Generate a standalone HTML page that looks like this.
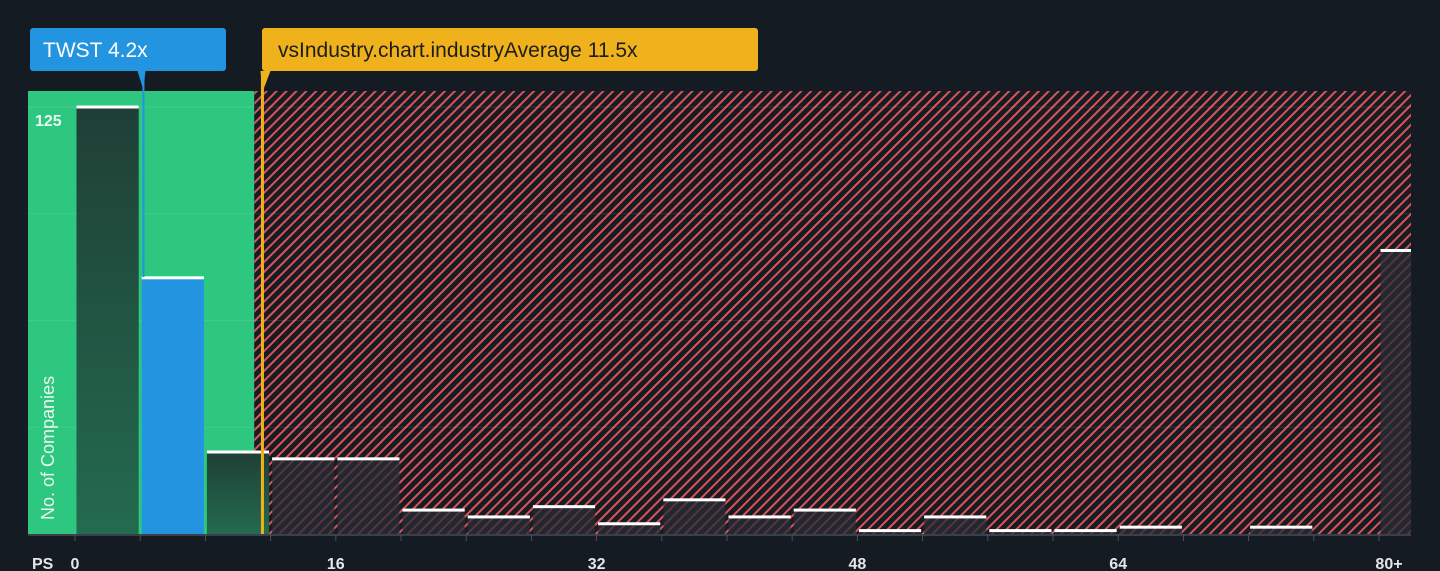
<!DOCTYPE html>
<html><head><meta charset="utf-8">
<style>
html,body{margin:0;padding:0;background:#151b23;width:1440px;height:571px;overflow:hidden}
svg{display:block;font-family:"Liberation Sans",sans-serif}
</style></head>
<body>
<svg id="chart" width="1440" height="571" viewBox="0 0 1440 571">
<defs>
<pattern id="hatch" patternUnits="userSpaceOnUse" width="7" height="7" patternTransform="rotate(45)">
<rect width="7" height="7" fill="#171b22"/>
<rect x="0" y="0" width="2" height="7" fill="#d9545a"/>
</pattern>
<linearGradient id="gbar" x1="0" y1="0" x2="0" y2="1"><stop offset="0" stop-color="#1f3f36"/><stop offset="1" stop-color="#236b4f"/></linearGradient>
</defs>
<g id="bg"></g><g id="bars"></g><g id="axis"></g><g id="ann"></g>
</svg>
<script>
const binStarts = [0,4,8,12,16,20,24,28,32,36,40,44,48,52,56,60,64,68,72,76,80];
const counts = [125,75,24,22,22,7,5,8,3,10,5,7,1,5,1,1,2,0,2,0,83];
const tickLabels = ["0","16","32","48","64","80+"];
const tickValues = [0,16,32,48,64,80];
const subjectValue = 4.2;
const industryAvg = 11.5;
const yMax = 125;

const NS="http://www.w3.org/2000/svg";
const x0=75, pxPerUnit=16.3, baseY=534, topY=107, plotL=28, plotR=1411, plotT=91;
const X=v=>x0+v*pxPerUnit;
const Y=c=>baseY-c*(baseY-topY)/yMax;
function mk(tag,attrs,parent){const e=document.createElementNS(NS,tag);for(const k in attrs)e.setAttribute(k,attrs[k]);parent.appendChild(e);return e;}
const bg=document.getElementById('bg'),bars=document.getElementById('bars'),axis=document.getElementById('axis'),ann=document.getElementById('ann');

let g=mk('rect',{x:plotL,y:plotT,width:X(industryAvg-0.5)-plotL,height:baseY-plotT,fill:'#2dc77f'},bg);


let h=mk('rect',{x:X(industryAvg-0.5),y:plotT,width:plotR-X(industryAvg-0.5),height:baseY-plotT,fill:'url(#hatch)'},bg);


for(let i=1;i<=4;i++){const gl=mk('line',{x1:plotL,x2:plotR,y1:Y(yMax*i/4),y2:Y(yMax*i/4),stroke:'rgba(255,255,255,0.1)','stroke-width':1},bg);

}

binStarts.forEach((b,i)=>{
  const c=counts[i]; if(c<=0) return;
  const xl=X(b)+1.5, w=4*pxPerUnit-3;
  const wEff=Math.min(w,plotR-xl);
  const inGreen=b+4<=industryAvg;
  const isSub=subjectValue>=b&&subjectValue<b+4;
  const fill=isSub?'#2394df':(b<industryAvg?'url(#gbar)':'rgba(40,44,54,0.75)');
  const r=mk('rect',{x:xl,y:Y(c),width:wEff,height:baseY-Y(c),fill:fill},bars);
  
  
  const cap=mk('rect',{x:xl,y:Y(c)-1.5,width:wEff,height:3,fill:'#fff'},bars);
  
  
});

const al=mk('line',{x1:plotL,x2:plotR,y1:baseY+1,y2:baseY+1,stroke:'#3a404a','stroke-width':2},axis);


binStarts.forEach(b=>{const t=mk('line',{x1:X(b),x2:X(b),y1:baseY,y2:baseY+7,stroke:'#4a505a','stroke-width':1},axis);

});
tickValues.forEach((v,i)=>{const t=mk('text',{x:X(v)+(i==tickLabels.length-1?10:0),y:569,fill:'#e6e6e6','font-size':16,'font-weight':'bold','text-anchor':'middle'},axis);t.textContent=tickLabels[i];

});
let ps=mk('text',{x:32,y:569,fill:'#e6e6e6','font-size':16,'font-weight':'bold'},axis);ps.textContent='PS';


let yl=mk('text',{x:35,y:126,fill:'#e9f7ef','font-size':16,'font-weight':'bold'},axis);yl.textContent='125';


let yt=mk('text',{x:0,y:0,fill:'#e9f7ef','font-size':18,transform:'translate(54,520) rotate(-90)'},axis);yt.textContent='No. of Companies';



const sx=X(subjectValue), ix=X(industryAvg);
let sl=mk('line',{x1:sx,x2:sx,y1:71,y2:baseY-257,stroke:'#2394df','stroke-width':2},ann);


let il=mk('line',{x1:ix,x2:ix,y1:71,y2:baseY,stroke:'#f0b21c','stroke-width':3},ann);


let sb=mk('rect',{x:30,y:28,width:196,height:43,rx:3,fill:'#2394df'},ann);


let sp=mk('polygon',{points:`${sx-6},71 ${sx+2},71 ${sx},90`,fill:'#2394df'},ann);


let st=mk('text',{x:43,y:57,fill:'#fff','font-size':21},ann);st.textContent='TWST 4.2x';


let ib=mk('rect',{x:262,y:28,width:496,height:43,rx:3,fill:'#efb21c'},ann);


let ip=mk('polygon',{points:`${ix-2},71 ${ix+8},71 ${ix},92`,fill:'#efb21c'},ann);


let it=mk('text',{x:278,y:57,fill:'#1d1d1d','font-size':21},ann);it.textContent='vsIndustry.chart.industryAverage 11.5x';


</script>
</body></html>
